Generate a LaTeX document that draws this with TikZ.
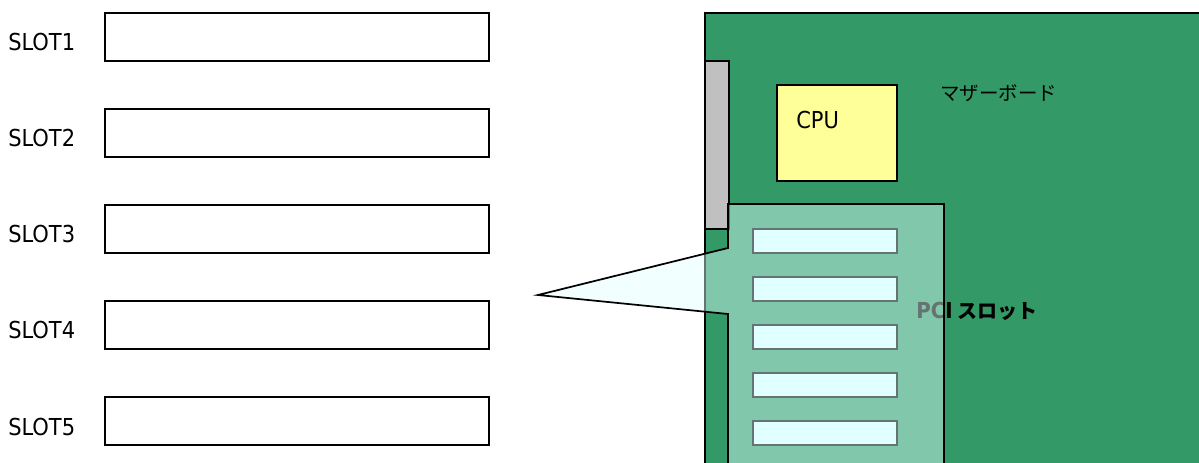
\documentclass[tikz,border=0pt]{standalone}
\usepackage{fontspec}
\setmainfont{DejaVu Sans Condensed}
\newfontfamily\cjk{Noto Sans CJK JP}
\definecolor{mbgreen}{RGB}{51,153,102}
\definecolor{brgray}{RGB}{192,192,192}
\definecolor{cpuyel}{RGB}{255,255,153}
\definecolor{lcyan}{RGB}{224,255,255}
\begin{document}
\begin{tikzpicture}[x=0.75pt,y=-0.75pt,
  box/.style={draw=black, line width=1.3pt, inner sep=0pt, anchor=north west},
  slotbox/.style={box, fill=white, minimum width=288pt, minimum height=36pt},
  pcislot/.style={box, fill=lcyan, minimum width=108pt, minimum height=18pt},
  lbl/.style={anchor=base west, inner sep=0pt, font=\fontsize{17.5}{20}\selectfont},
  jlbl/.style={anchor=base west, inner sep=0pt, font=\fontsize{14.6}{17}\selectfont}]
\useasboundingbox (0,0) rectangle (1199,463);
\clip (0,0) rectangle (1199,463);
% left slot boxes
\foreach \i/\y in {1/12,2/108,3/204,4/300,5/396} {
  \node[slotbox] (slot\i) at (104,\y) {};
  \node[lbl] (lab\i) at (8,\y+39) {SLOT\i};
}
% motherboard
\node[box, fill=mbgreen, minimum width=390pt, minimum height=354pt] (mb) at (704,12) {};
\node[box, fill=brgray, minimum width=18pt, minimum height=126pt] (bracket) at (704,60) {};
\node[box, fill=cpuyel, minimum width=90pt, minimum height=72pt] (cpu) at (776,84) {};
\node[lbl] (cputxt) at (796,129) {CPU};
\node[jlbl] (mbtxt) at (940,101) {\cjk マザーボード};
\node[jlbl] (pcitxt) at (916,318) {\bfseries\fontsize{16.5}{19}\selectfont PCI\hspace{4pt}{\cjk\bfseries\fontsize{15}{18}\selectfont スロット}};
% PCI slots
\foreach \i/\y in {1/228,2/276,3/324,4/372,5/420} {
  \node[pcislot] (pci\i) at (752,\y) {};
}
% callout
\coordinate (tip) at (538,295);
\fill[lcyan, fill opacity=0.45] (728,480) -- (728,314) -- (tip) -- (728,248) -- (728,204) -- (944,204) -- (944,480) -- cycle;
\draw[line width=1.3pt, line join=miter] (728,480) -- (728,314) -- (tip) -- (728,248) -- (728,204) -- (944,204) -- (944,480);
\end{tikzpicture}
\end{document}
